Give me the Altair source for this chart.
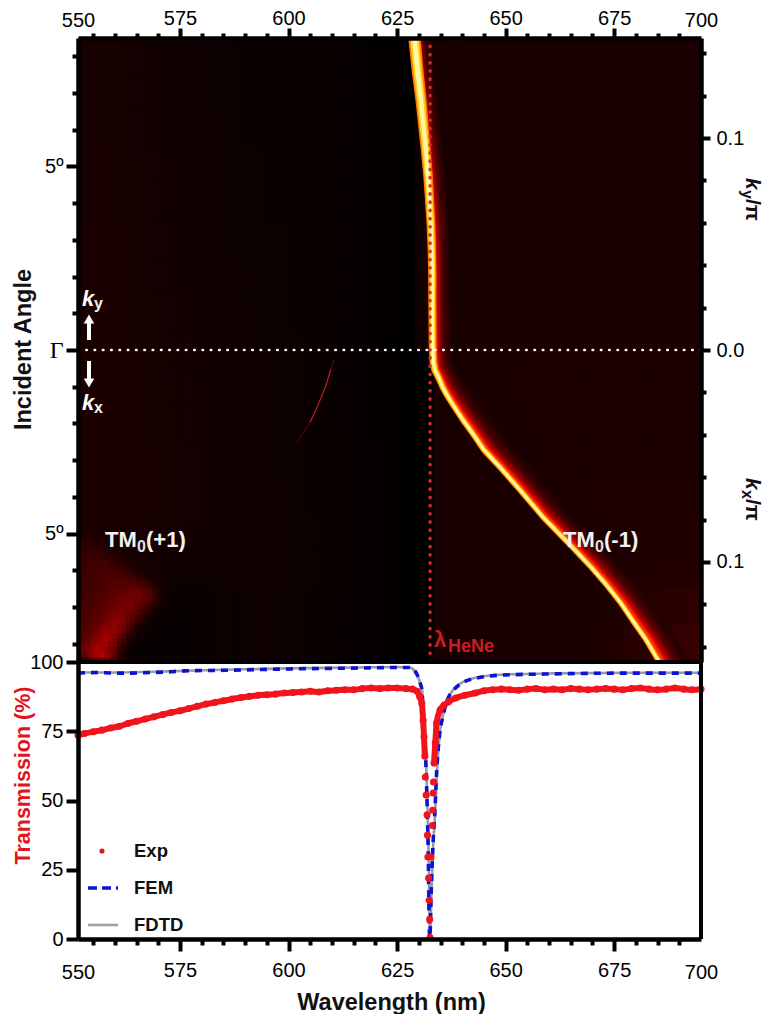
import altair as alt
import pandas as pd

SANS = "Liberation Sans"
SERIF = "Liberation Serif"
X0, Y0 = 78, 38          # page position of the heat-map origin, for annotations
W, H_TOP, H_BOT = 623, 624, 277
X_DOMAIN = [551.5, 695]

# ---------- heat map: ridge ----------
ridge_wavelength = [629.0, 629.7, 630.5, 631.6, 632.1, 632.4, 632.8, 633.0, 633.1, 633.1, 633.2, 633.3, 633.35, 633.7, 634.6,
                    635.5, 636.5, 637.6, 638.8, 640.2, 641.6, 643.0, 645.0, 648.7, 653.3, 658.6, 666.0, 669.5, 672.9, 676.4,
                    679.4, 682.4, 685.4]
ridge_angle = [8.5, 7.63, 6.81, 5.45, 4.77, 4.22, 3.41, 2.72, 2.04, 1.36, 0.0, -0.14, -0.33, -0.54, -0.76,
               -1.01, -1.23, -1.44, -1.66, -1.91, -2.14, -2.37, -2.72, -3.19, -3.81, -4.55, -5.45, -5.89, -6.35, -6.87,
               -7.39, -7.90, -8.5]
ridge_core = [6.5, 6.2, 5.8, 5.2, 5.0, 4.8, 4.6, 4.4, 4.3, 4.2, 4.0, 4.0, 4.0, 3.8, 3.6,
              3.4, 3.3, 3.2, 3.2, 3.2, 3.2, 3.2, 3.2, 3.2, 3.1, 3.0, 3.0, 3.0, 3.0, 3.0,
              3.0, 3.0, 3.0]
ridge_glow = [16, 16, 16, 17, 17, 17, 18, 18, 18, 18, 19, 19, 19, 20, 21,
              22, 23, 24, 24, 25, 25, 25, 25, 25, 25, 25, 25, 26, 26, 27,
              27, 28, 28]
glow_layers = [(1.00, "#240000"), (0.90, "#2c0000"), (0.80, "#360000"), (0.70, "#440000"), (0.60, "#580000"),
               (0.50, "#740000"), (0.42, "#940000"), (0.34, "#b80000"), (0.27, "#e00800"), (0.21, "#ff2800")]
core_layers = [(1.9, "#ff7a00"), (1.35, "#ffd21e"), (0.75, "#fff6a8")]

faint_wavelength = [610.4, 609.7, 608.5, 606.6, 605.0, 602.7, 602.0]
faint_angle = [-0.27, -0.54, -1.01, -1.55, -1.96, -2.37, -2.53]

# ---------- heat map: dim background, red channel 0-255 ----------
bg_wavelength = [553.9 + 4.8 * i for i in range(30)]
bg_angle = [8, 7, 6, 5, 4, 3, 2, 1, 0, -1, -2, -3, -4, -5, -6, -7, -8]
bg_rows = [
    [24, 22, 20, 18, 16, 14, 13, 12, 11, 11, 10, 9, 8, 6, 4, 0, 24, 24, 26, 26, 27, 27, 27, 27, 27, 27, 27, 27, 26, 26],
    [24, 22, 20, 18, 16, 14, 13, 12, 11, 11, 10, 9, 8, 6, 4, 0, 24, 24, 26, 26, 27, 27, 27, 27, 27, 27, 27, 27, 26, 26],
    [24, 22, 20, 18, 16, 15, 13, 12, 11, 11, 10, 9, 8, 6, 4, 0, 24, 24, 26, 26, 27, 27, 27, 27, 27, 27, 27, 27, 26, 26],
    [25, 23, 21, 19, 17, 15, 14, 13, 12, 11, 10, 9, 8, 6, 4, 0, 24, 24, 26, 26, 27, 27, 27, 27, 27, 27, 27, 27, 26, 26],
    [25, 23, 21, 19, 17, 15, 14, 13, 12, 11, 10, 9, 8, 6, 4, 0, 24, 24, 26, 26, 27, 27, 27, 27, 27, 27, 27, 27, 27, 26],
    [26, 24, 22, 20, 18, 16, 14, 13, 12, 12, 11, 10, 8, 6, 4, 0, 24, 24, 26, 26, 27, 27, 27, 27, 27, 27, 27, 27, 27, 27],
    [26, 24, 22, 20, 18, 16, 15, 14, 13, 12, 11, 10, 8, 6, 4, 0, 24, 24, 26, 26, 27, 27, 27, 27, 27, 27, 27, 27, 27, 27],
    [26, 25, 23, 21, 19, 17, 15, 14, 13, 12, 11, 10, 8, 6, 4, 0, 24, 24, 26, 26, 27, 27, 27, 27, 27, 27, 27, 27, 27, 27],
    [28, 26, 24, 22, 20, 18, 16, 15, 14, 13, 12, 10, 8, 6, 4, 0, 24, 24, 26, 26, 27, 28, 28, 28, 28, 28, 28, 28, 28, 28],
    [28, 26, 24, 22, 20, 18, 16, 15, 14, 13, 12, 10, 8, 6, 4, 0, 24, 24, 26, 26, 28, 28, 28, 28, 28, 28, 28, 28, 28, 28],
    [28, 26, 24, 22, 20, 18, 17, 15, 14, 13, 12, 10, 8, 6, 4, 0, 24, 24, 26, 26, 27, 28, 28, 28, 28, 28, 28, 28, 28, 28],
    [28, 27, 25, 23, 21, 19, 17, 15, 14, 13, 12, 11, 9, 7, 4, 0, 24, 24, 26, 26, 26, 27, 28, 28, 28, 28, 28, 28, 28, 28],
    [28, 27, 25, 23, 21, 19, 17, 16, 15, 14, 12, 11, 9, 7, 4, 0, 24, 24, 26, 26, 26, 26, 27, 28, 29, 29, 29, 29, 29, 30],
    [28, 27, 25, 23, 21, 19, 17, 16, 15, 14, 13, 11, 9, 7, 5, 0, 24, 24, 26, 26, 26, 26, 26, 27, 28, 29, 30, 30, 31, 32],
    [26, 26, 24, 22, 20, 18, 14, 15, 14, 14, 13, 11, 9, 7, 5, 0, 24, 24, 26, 26, 26, 26, 26, 26, 27, 30, 32, 33, 34, 36],
    [24, 24, 22, 20, 18, 12, 10, 12, 14, 13, 12, 10, 8, 7, 5, 0, 24, 24, 26, 26, 26, 26, 26, 26, 27, 30, 34, 38, 42, 46],
    [24, 24, 22, 20, 18, 10, 10, 12, 14, 13, 12, 10, 8, 7, 5, 0, 24, 24, 26, 26, 26, 26, 26, 26, 27, 32, 40, 46, 52, 58],
]

# ---------- heat map: TM0(+1) feature in the lower left, red channel 0-255 ----------
patch_wavelength = [552.5 + 2 * i for i in range(17)]
patch_angle = [-5.0 - 0.25 * i for i in range(14)]
patch_rows = [
    [26, 28, 26, 24, 24, 22, 22, 22, 20, 20, 20, 20, 20, 18, 18, 18, 18],
    [42, 38, 32, 26, 24, 22, 22, 22, 20, 20, 20, 20, 20, 18, 18, 18, 18],
    [50, 54, 46, 34, 26, 22, 22, 22, 20, 20, 20, 18, 18, 18, 18, 18, 18],
    [54, 60, 64, 54, 40, 30, 22, 22, 20, 20, 18, 18, 16, 16, 16, 16, 16],
    [58, 62, 68, 70, 60, 48, 34, 24, 22, 20, 18, 16, 14, 14, 14, 14, 14],
    [60, 64, 70, 74, 78, 72, 60, 44, 28, 20, 16, 14, 13, 13, 13, 13, 14],
    [62, 66, 72, 78, 86, 92, 92, 82, 60, 26, 14, 12, 12, 12, 12, 12, 14],
    [64, 70, 78, 86, 98, 108, 118, 120, 84, 22, 12, 10, 10, 10, 10, 12, 14],
    [66, 72, 82, 96, 110, 122, 125, 84, 36, 12, 10, 9, 9, 9, 10, 12, 14],
    [70, 78, 90, 110, 130, 135, 96, 42, 16, 10, 9, 8, 8, 9, 10, 12, 14],
    [72, 84, 102, 130, 155, 116, 50, 18, 10, 8, 8, 7, 7, 8, 10, 12, 14],
    [76, 94, 125, 165, 145, 66, 22, 10, 8, 7, 7, 7, 7, 8, 10, 12, 14],
    [82, 118, 165, 180, 94, 28, 12, 8, 7, 7, 7, 7, 8, 9, 10, 12, 14],
    [96, 155, 190, 125, 44, 14, 8, 7, 7, 7, 7, 7, 8, 9, 10, 12, 14],
]

# ---------- transmission ----------
exp_wavelength = [551.5, 553, 555, 557, 559, 561, 563, 565, 567, 569, 571, 573, 575, 577, 579, 581, 583, 585, 587, 589,
                  591, 593, 595, 597, 599, 601, 603, 605, 607, 609, 611, 613, 615, 617, 619, 621, 623, 625, 627, 628.5,
                  629.6, 630.2, 630.7, 631.0, 631.2, 631.4, 631.5, 631.7, 631.9, 632.0, 632.1, 632.25, 632.4, 632.5,
                  632.6, 632.8, 633.1, 633.2, 633.3, 633.4, 633.5, 633.8, 634.1, 634.9, 635.8, 636.8, 638.5, 640.6,
                  643, 645, 647, 649, 651, 653, 655, 657, 659, 661, 663, 665, 667, 669, 671, 673, 675, 677, 679, 681,
                  683, 685, 687, 689, 691, 693, 695]
exp_transmission = [73.6, 74.2, 74.8, 75.4, 76.2, 76.8, 77.8, 78.6, 79.4, 80.2, 81.0, 81.8, 82.4, 83.2, 84.0, 84.8, 85.4, 86.0, 86.6, 87.2,
                    87.6, 88.0, 88.2, 88.4, 88.8, 89.0, 89.2, 89.4, 89.2, 89.6, 89.8, 90.0, 90.0, 90.4, 90.6, 90.4, 90.6, 90.6, 90.4, 90.2,
                    89.4, 87.5, 85.0, 79.0, 73.0, 66.0, 58.5, 52.0, 44.8, 37.5, 29.6, 22.0, 14.0, 7.0,
                    0.5, 29.6, 41.0, 46.5, 52.7, 56.7, 63.5, 70.8, 78.0, 82.7, 84.4, 85.6, 87.0, 88.0,
                    88.8, 89.6, 90.0, 90.2, 90.0, 89.8, 90.2, 90.4, 90.0, 90.2, 90.0, 90.4, 90.2, 90.0, 90.2, 90.4, 90.2, 90.0, 90.4, 90.6,
                    90.2, 90.0, 90.2, 90.6, 90.2, 90.0, 90.2]
fem_wavelength = [551.5, 556, 560, 564, 568, 572, 576, 585, 600, 615, 625, 628, 628.7, 629.6, 630.3, 630.7, 631.1, 631.6, 631.9, 632.2, 632.4,
                  632.55, 632.8, 633.2, 633.7, 634.1, 634.8, 635.5, 636.5, 638.1, 640.4, 642.7, 649.6, 661, 680, 695]
fem_transmission = [96.0, 96.2, 96.0, 96.0, 96.2, 96.4, 96.8, 97.0, 97.5, 97.8, 98.0, 98.0, 97.4, 95.5, 92.4, 90.0, 79.0, 64.6, 49.0, 28.5, 4.3,
                    0.5, 14.0, 32.0, 46.0, 60.0, 74.0, 80.0, 86.0, 90.0, 92.8, 94.0, 95.3, 95.7, 96.0, 96.0]
fdtd_wavelength = [551.5, 560, 572, 585, 600, 615, 625, 628, 628.8, 629.7, 630.4, 630.8, 631.2, 631.7, 632.0, 632.3, 632.5,
                   632.6, 632.9, 633.3, 633.8, 634.2, 634.9, 635.6, 636.6, 638.2, 640.5, 642.8, 649.7, 661, 680, 695]
fdtd_transmission = [96.2, 96.2, 96.6, 97.2, 97.7, 98.0, 98.2, 98.0, 97.2, 95.0, 92.0, 89.5, 78.0, 63.0, 47.0, 27.0, 4.0,
                     0.8, 15.0, 33.0, 47.0, 61.0, 75.0, 81.0, 86.5, 90.5, 93.0, 94.2, 95.5, 95.9, 96.1, 96.1]

# ---------- axes ----------
x_tick_values = [X_DOMAIN[0]] + list(range(555, 695, 5)) + [X_DOMAIN[1]]
x_label_expr = ("datum.value<552?'550':datum.value>694?'700':"
                "(datum.value%25==0?format(datum.value,'d'):'')")
edge = "datum.value<552||datum.value>694"
major = "datum.value%25==0"


def x_axis(orient, major_len, minor_len, padding, edge_padding, **extra):
    return alt.Axis(orient=orient, values=x_tick_values, labelExpr=x_label_expr,
                    labelFont=SANS, labelFontSize=20, labelColor="#000000", labelAngle=0, labelOverlap=False,
                    labelFlush=False, labelBound=False, grid=False, domainColor="black", domainWidth=4.5,
                    tickColor="black", tickWidth=4, zindex=1,
                    tickSize={"condition": [{"test": edge, "value": 0}, {"test": major, "value": major_len}],
                              "value": minor_len},
                    labelPadding={"condition": {"test": edge, "value": edge_padding}, "value": padding}, **extra)


top_x_axis = x_axis("top", 10, 5, 0, 8, title=None)
bottom_x_axis = x_axis("bottom", 12, 6, 9, 23, title="Wavelength (nm)", titleFont=SANS, titleFontSize=23.5,
                       titleFontWeight="bold", titleColor="#111111", titleX=313, titleY=63, titleBaseline="middle")

angle_axis = alt.Axis(orient="left", values=list(range(-8, 9)), title="Incident Angle",
                      titleFont=SANS, titleFontSize=23.5, titleFontWeight="bold", titleColor="#111111",
                      titleX=-55, titleY=311, titleAngle=-90, titleAlign="center", titleBaseline="middle",
                      labelExpr="datum.value==0?'Γ':(abs(datum.value)==5?'5º':'')",
                      labelFont={"condition": {"test": "datum.value==0", "value": SERIF}, "value": SANS},
                      labelFontSize={"condition": {"test": "datum.value==0", "value": 24}, "value": 20},
                      labelColor="#000000", labelOverlap=False, labelBound=False, labelFlush=False,
                      labelPadding=3, grid=False, domainColor="black", domainWidth=4.5, tickColor="black", tickWidth=4,
                      zindex=1,
                      tickSize={"condition": {"test": "datum.value%5==0", "value": 12}, "value": 6})

k_axis = alt.Axis(orient="right", values=[round(-0.14 + 0.02 * i, 2) for i in range(15)], title=None,
                  labelExpr="abs(datum.value)==0.1?'0.1':(datum.value==0?'0.0':'')",
                  labelFont=SANS, labelFontSize=20, labelColor="#000000", labelOverlap=False, labelBound=False,
                  labelFlush=False, labelPadding=6, grid=False, domainColor="black", domainWidth=4.5, tickColor="black",
                  tickWidth=4, zindex=1,
                  tickSize={"condition": {"test": "abs(datum.value)==0.1||datum.value==0", "value": 9}, "value": 5})

x_scale = alt.Scale(domain=X_DOMAIN, nice=False, zero=False)
y_scale = alt.Scale(domain=[-8.5, 8.5], nice=False, zero=False)
k_scale = alt.Scale(domain=[-0.1472, 0.1472], nice=False, zero=False)
t_scale = alt.Scale(domain=[0, 100], nice=False, zero=False)
red_scale = alt.Scale(domain=[0, 255], range=["#000000", "#ff0000"], interpolate="rgb")


def tx(field="x:Q"):
    return alt.X(field, scale=x_scale, axis=top_x_axis)


def ty(field="y:Q"):
    return alt.Y(field, scale=y_scale, axis=None)


def grid_frame(xs, ys, rows, half_w, half_h, shift_w=0.0, shift_h=0.0):
    recs = []
    for a, row in zip(ys, rows):
        for w, v in zip(xs, row):
            recs.append({"x": w - half_w + shift_w, "x2": w + half_w + 0.25 + shift_w,
                         "y": a + half_h + 0.03 + shift_h, "y2": a - half_h + shift_h, "r": v})
    return pd.DataFrame(recs)


def cells(df, opacity=1.0):
    return alt.Chart(df).mark_rect(clip=True, strokeWidth=0, opacity=opacity).encode(
        x=tx(), x2="x2:Q", y=ty(), y2="y2:Q",
        color=alt.Color("r:Q", scale=red_scale, legend=None))


def note(text, x, y, size=22, color="#111111", weight="bold", style="normal", font=SANS, angle=0, align="left"):
    """Annotation placed by its position on the page."""
    return alt.Chart(pd.DataFrame({"t": [text]})).mark_text(
        font=font, fontSize=size, fontWeight=weight, fontStyle=style, color=color, angle=angle,
        align=align, baseline="middle").encode(text="t:N", x=alt.value(x - X0), y=alt.value(y - Y0))


def trail(df, size_field, color, opacity=1.0):
    return alt.Chart(df).mark_trail(clip=True, color=color, opacity=opacity).encode(
        x=tx(), y=ty(), order="i:Q", size=alt.Size(f"{size_field}:Q", scale=None, legend=None))


layers = [
    alt.Chart(pd.DataFrame({"y": [0.0], "x": [600.0]})).mark_rule(opacity=0).encode(
        y=alt.Y("y:Q", scale=y_scale, axis=angle_axis), x=tx()),
    cells(grid_frame(bg_wavelength, bg_angle, bg_rows, 2.4, 0.5)),
    cells(grid_frame(bg_wavelength, bg_angle, bg_rows, 2.4, 0.5, 2.4, 0.0), 0.5),
    cells(grid_frame(patch_wavelength, patch_angle, patch_rows, 1.0, 0.125)),
    cells(grid_frame(patch_wavelength, patch_angle, patch_rows, 1.0, 0.125, 1.0, -0.125), 0.5),
    cells(grid_frame(patch_wavelength, patch_angle, patch_rows, 1.0, 0.125, -1.0, 0.125), 0.33),
]

ridge = pd.DataFrame({"i": range(len(ridge_angle)), "x": ridge_wavelength, "y": ridge_angle,
                      "core": ridge_core, "glow": ridge_glow})
PX_PER_NM = W / (X_DOMAIN[1] - X_DOMAIN[0])

# black wedge left of and below the ridge
wedge = ridge.assign(x0=626.0)
layers.append(alt.Chart(wedge).mark_area(clip=True, orient="horizontal", color="#000000").encode(
    y=ty(), x=alt.X("x0:Q", scale=x_scale, axis=top_x_axis), x2="x:Q", order="i:Q"))
layers.append(cells(pd.DataFrame({"x": [626.0, 626.0], "x2": [629.0, 633.2], "y": [8.5, 0.0], "y2": [0.0, -8.5],
                                  "r": [0, 0]})))

for frac, colour in glow_layers:
    d = ridge.assign(w=ridge["glow"] * frac, x=ridge["x"] + ridge["glow"] * frac / 2 / PX_PER_NM)
    layers.append(trail(d, "w", colour))
for frac, colour in core_layers:
    d = ridge.assign(w=ridge["core"] * frac)
    layers.append(trail(d, "w", colour))

faint = pd.DataFrame({"i": range(len(faint_angle)), "x": faint_wavelength, "y": faint_angle,
                      "w": [1.1] * len(faint_angle)})
layers.append(trail(faint, "w", "#500808"))
layers.append(trail(faint.iloc[1:5], "w", "#c82024"))

layers.append(alt.Chart(pd.DataFrame({"x": [632.6]})).mark_rule(
    color="#d62a2e", strokeWidth=3.4, strokeDash=[0.5, 7.7], strokeCap="round", clip=True).encode(x=tx()))

for t in [
    note("TM", 105, 540, 22, "#f2f2f2"), note("0", 137, 547, 16, "#e0e0e0"), note("(+1)", 146, 540, 22, "#f2f2f2"),
    note("TM", 563, 540, 22, "#f2f2f2"), note("0", 595, 547, 16, "#e0e0e0"), note("(-1)", 604, 540, 22, "#f2f2f2"),
    note("λ", 434, 640, 22, "#c81e22"), note("HeNe", 448, 647, 18, "#c81e22"),
    note("k", 82, 299, 22, "#ffffff", style="italic"), note("y", 94, 304, 16, "#f0f0f0"),
    note("k", 82, 403, 22, "#ffffff", style="italic"), note("x", 94, 408, 16, "#f0f0f0"),
    note("k", 751.5, 178, 21, style="italic", angle=90), note("y", 747, 190, 16, angle=90), note("/π", 751.5, 199, 21, angle=90),
    note("k", 751.5, 478, 21, style="italic", angle=90), note("x", 747, 490, 16, angle=90), note("/π", 751.5, 499, 21, angle=90),
]:
    layers.append(t)

# the two arrows next to Gamma
layers.append(alt.Chart(pd.DataFrame({"p": [0]})).mark_rule(color="white", strokeWidth=4).encode(
    x=alt.value(89 - X0), y=alt.value(322 - Y0), y2=alt.value(340 - Y0)))
layers.append(alt.Chart(pd.DataFrame({"p": [0]})).mark_rule(color="white", strokeWidth=4).encode(
    x=alt.value(89 - X0), y=alt.value(361 - Y0), y2=alt.value(380 - Y0)))
layers.append(alt.Chart(pd.DataFrame({"p": [0]})).mark_point(
    shape="triangle-up", filled=True, color="white", size=110, opacity=1).encode(
    x=alt.value(89 - X0), y=alt.value(319 - Y0)))
layers.append(alt.Chart(pd.DataFrame({"p": [0]})).mark_point(
    shape="triangle-down", filled=True, color="white", size=110, opacity=1).encode(
    x=alt.value(89 - X0), y=alt.value(383 - Y0)))

# Gamma line, drawn on the k scale, which also carries the right-hand axis
layers.append(alt.Chart(pd.DataFrame({"k": [0.0]})).mark_rule(
    color="white", strokeWidth=2.6, strokeDash=[0.5, 7.8], strokeCap="round").encode(
    y=alt.Y("k:Q", scale=k_scale, axis=k_axis)))

top = alt.layer(*layers).resolve_scale(y="independent").properties(width=W, height=H_TOP)

# ---------- lower panel ----------
exp = pd.DataFrame({"x": exp_wavelength, "y": exp_transmission, "i": range(len(exp_wavelength))})
fem = pd.DataFrame({"x": fem_wavelength, "y": fem_transmission, "i": range(len(fem_wavelength))})
fdtd = pd.DataFrame({"x": fdtd_wavelength, "y": fdtd_transmission, "i": range(len(fdtd_wavelength))})

t_axis = alt.Axis(orient="left", values=[0, 25, 50, 75, 100], title="Transmission (%)",
                  titleFont=SANS, titleFontSize=21.5, titleFontWeight="bold", titleColor="#e0141c",
                  titleX=-55, titleY=113, titleAngle=-90, titleAlign="center", titleBaseline="middle",
                  labelFont=SANS, labelFontSize=20, labelColor="#000000", labelOverlap=False, labelBound=False,
                  labelFlush=False, labelPadding=3, grid=False, domainColor="black", domainWidth=4.5, tickColor="black",
                  tickWidth=4, tickSize=12, zindex=1)


def bx():
    return alt.X("x:Q", scale=x_scale, axis=bottom_x_axis)


def by():
    return alt.Y("y:Q", scale=t_scale, axis=t_axis)


def curve(df, **kw):
    return alt.Chart(df).mark_line(clip=True, interpolate="monotone", **kw).encode(x=bx(), y=by(), order="i:Q")


PANEL_Y = Y0 + H_TOP


def note2(text, x, y):
    return alt.Chart(pd.DataFrame({"t": [text]})).mark_text(
        font=SANS, fontSize=18.5, fontWeight="bold", color="#111111", align="left", baseline="middle").encode(
        text="t:N", x=alt.value(x - X0), y=alt.value(y - PANEL_Y))


def key_line(y, **kw):
    return alt.Chart(pd.DataFrame({"p": [0]})).mark_rule(**kw).encode(
        x=alt.value(88 - X0), x2=alt.value(118 - X0), y=alt.value(y - PANEL_Y))


bottom = alt.layer(
    curve(fdtd, color="#9a9aa6", strokeWidth=2.6),
    curve(fem, color="#0a14d2", strokeWidth=3.6, strokeDash=[7, 6]),
    curve(exp[exp["x"] < 631.45], color="#f0141c", strokeWidth=6),
    curve(exp[exp["x"] > 633.45], color="#f0141c", strokeWidth=6),
    alt.Chart(exp).mark_circle(clip=False, color="#f0141c", size=50, opacity=1).encode(x=bx(), y=by()),
    alt.Chart(pd.DataFrame({"p": [0]})).mark_rule(color="black", strokeWidth=4).encode(
        x=alt.value(0), x2=alt.value(W), y=alt.value(0)),
    alt.Chart(pd.DataFrame({"p": [0]})).mark_rule(color="black", strokeWidth=4).encode(
        x=alt.value(W), y=alt.value(0), y2=alt.value(H_BOT)),
    alt.Chart(pd.DataFrame({"p": [0]})).mark_circle(color="#e0141c", size=26, opacity=1).encode(
        x=alt.value(102 - X0), y=alt.value(851 - PANEL_Y)),
    key_line(888, color="#0a14d2", strokeWidth=3.6, strokeDash=[9, 5]),
    key_line(925, color="#a0a0a0", strokeWidth=2.6),
    note2("Exp", 134, 851), note2("FEM", 134, 888), note2("FDTD", 134, 925),
).properties(width=W, height=H_BOT)

chart = alt.vconcat(top, bottom, spacing=0, bounds="flush").configure_view(
    stroke=None).properties(padding={"left": 3, "top": 0, "right": 0, "bottom": 0}, background="white")

chart.save("out.html", embed_options={"renderer": "svg", "actions": False})
